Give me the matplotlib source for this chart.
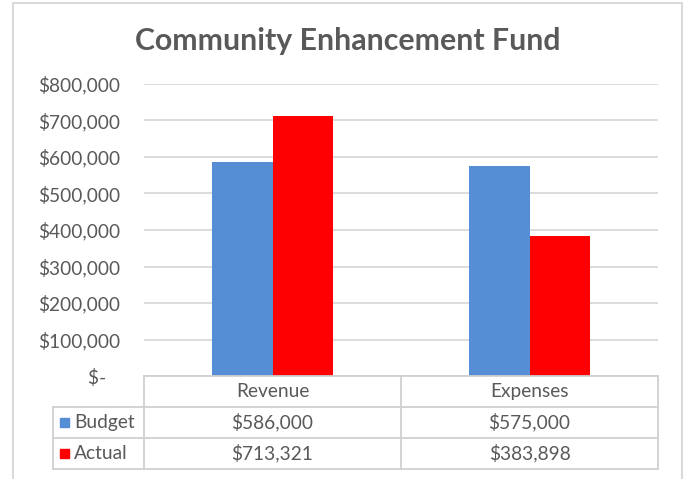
import matplotlib
matplotlib.use("Agg")
import matplotlib.pyplot as plt
from matplotlib.patches import Rectangle
from matplotlib.lines import Line2D
import matplotlib.transforms as mtransforms

categories = ["Revenue", "Expenses"]
series_names = ["Budget", "Actual"]
budget = [586000, 575000]
actual = [713321, 383898]
y_ticks = [0, 100000, 200000, 300000, 400000, 500000, 600000, 700000, 800000]
title = "Community Enhancement Fund"

colors = ["#558ED5", "#FF0000"]
text_color = "#595959"
grid_color = "#D9D9D9"
FONT = ["Lato", "DejaVu Sans"]
plt.rcParams["font.family"] = FONT

W, H = 688, 479
fig = plt.figure(figsize=(W / 100, H / 100), dpi=100)

def fx(px):
    return px / W

def fy(py):
    return 1 - py / H

ax_left, ax_right, ax_top, ax_bottom = 144, 658, 84, 376
ax = fig.add_axes([fx(ax_left), fy(ax_bottom), fx(ax_right) - fx(ax_left), fy(ax_top) - fy(ax_bottom)])

# chart border
fig.patches.append(Rectangle((fx(13), -0.05), fx(682) - fx(13), fy(3) + 0.05,
                             transform=fig.transFigure, fill=False,
                             edgecolor="#D9D9D9", linewidth=1.5))

bar_w = 0.237
x = list(range(len(categories)))
series = [budget, actual]
for i, (vals, col) in enumerate(zip(series, colors)):
    offs = (i - 0.5) * bar_w
    ax.bar([xi + offs for xi in x], vals, width=bar_w, color=col, zorder=3)

ax.set_xlim(-0.5, len(categories) - 0.5)
ax.set_ylim(0, 800000)
ax.set_yticks(y_ticks)

def fmt(v):
    return "$-   " if v == 0 else f"${v:,.0f}"

FS = 13.8
ax.set_yticklabels([fmt(v) for v in y_ticks], color=text_color, fontsize=FS)
ax.tick_params(axis="y", length=0, pad=17)
ax.set_xticks([])
ax.grid(axis="y", color=grid_color, linewidth=1.3, zorder=0)
for s in ax.spines.values():
    s.set_visible(False)

fig.text(0.506, fy(41), title, ha="center", va="center", fontsize=21.8,
         fontweight="bold", color=text_color)

# data table
trans = mtransforms.blended_transform_factory(ax.transData, fig.transFigure)
row_edges = [376, 407, 438, 469]
tcolor = "#D0D0D0"
lw = 1.3
leg_left = fx(53)
x_l, x_r = -0.5, len(categories) - 0.5

# horizontal lines
fig.add_artist(Line2D([x_l, x_r], [fy(row_edges[0])] * 2, transform=trans, color=tcolor, lw=lw))
for r in row_edges[1:]:
    fig.add_artist(Line2D([leg_left, fx(ax_right)], [fy(r)] * 2, transform=fig.transFigure, color=tcolor, lw=lw))
# vertical lines
for k in range(len(categories) + 1):
    xv = k - 0.5
    fig.add_artist(Line2D([xv, xv], [fy(row_edges[0]), fy(row_edges[-1])], transform=trans, color=tcolor, lw=lw))
fig.add_artist(Line2D([leg_left, leg_left], [fy(row_edges[1]), fy(row_edges[-1])], transform=fig.transFigure, color=tcolor, lw=lw))

# header
hy = fy((row_edges[0] + row_edges[1]) / 2)
for xi, c in zip(x, categories):
    fig.text(xi, hy, c, transform=trans, ha="center", va="center", fontsize=FS, color=text_color)

for ri, (name, vals, col) in enumerate(zip(series_names, series, colors)):
    cy = fy((row_edges[ri + 1] + row_edges[ri + 2]) / 2)
    fig.patches.append(Rectangle((fx(60), cy - 4.5 / H), 9 / W, 9 / H, transform=fig.transFigure,
                                 color=col))
    fig.text(fx(74), cy, name, ha="left", va="center", fontsize=FS, color=text_color)
    for xi, v in zip(x, vals):
        fig.text(xi, cy, f"${v:,.0f}", transform=trans, ha="center", va="center",
                 fontsize=FS, color=text_color)

fig.savefig("out.png", dpi=100)
